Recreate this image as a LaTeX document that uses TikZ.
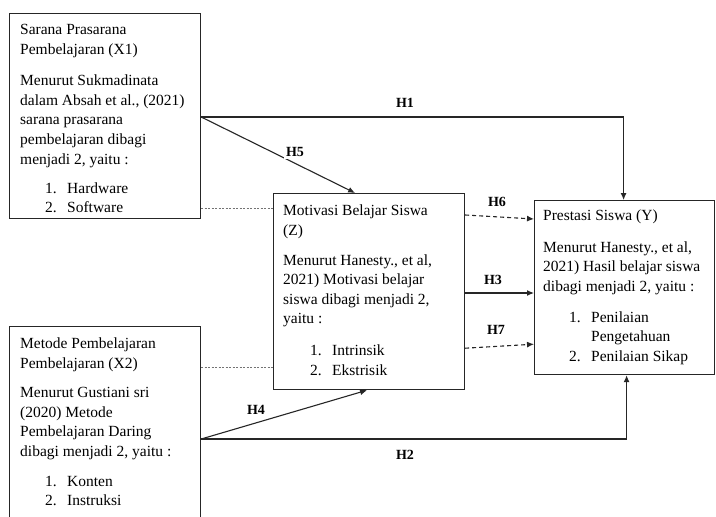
\documentclass[tikz,border=0pt]{standalone}
\usepackage{fontspec}
\setmainfont{Liberation Serif}
\usetikzlibrary{calc,arrows.meta}
\tikzset{
  box/.style={draw=black!85,line width=1.2pt,inner sep=0pt,anchor=north west},
  txt/.style={anchor=north west,align=left,inner sep=0pt,font=\fontsize{15.5}{19.6}\selectfont},
  conn/.style={draw=black!85,line width=1.1pt},
  arr/.style={conn,-{Latex[length=7pt,width=6pt]}},
  darr/.style={arr,dashed,dash pattern=on 4pt off 3pt},
  dotline/.style={draw=black!55,line width=0.7pt,dash pattern=on 2pt off 1.5pt},
  hlab/.style={font=\bfseries\fontsize{14}{16}\selectfont,fill=white,inner sep=2pt}
}
\newcommand{\itmb}[3]{\hspace*{#1}\makebox[22pt][l]{#2}#3}
\begin{document}
\begin{tikzpicture}[x=1pt,y=-1pt]
\clip (0,0) rectangle (716,517);
\fill[white] (0,0) rectangle (716,517);
% boxes
\node[box,minimum width=191pt,minimum height=205pt] (X1) at (9,13) {};
\node[box,minimum width=191pt,minimum height=226pt] (X2) at (9,326) {};
\node[box,minimum width=191pt,minimum height=196pt] (Z) at (273,193) {};
\node[box,minimum width=180pt,minimum height=174pt] (Y) at (534,200) {};
% texts
\node[txt] (tX1) at (20,24) {Sarana Prasarana\\Pembelajaran (X1)\\[12pt]
Menurut Sukmadinata\\dalam Absah et al., (2021)\\sarana prasarana\\pembelajaran dibagi\\menjadi 2, yaitu :\\[10pt]
\itmb{25pt}{1.}{Hardware}\\[-1pt]\itmb{25pt}{2.}{Software}};
\node[txt] (tX2) at (20,337.5) {Metode Pembelajaran\\Pembelajaran (X2)\\[10pt]
Menurut Gustiani sri\\(2020) Metode\\Pembelajaran Daring\\dibagi menjadi 2, yaitu :\\[10pt]
\itmb{25pt}{1.}{Konten}\\\itmb{25pt}{2.}{Instruksi}};
\node[txt] (tZ) at (283,205) {Motivasi Belajar Siswa\\(Z)\\[10pt]
Menurut Hanesty., et al,\\2021) Motivasi belajar\\siswa dibagi menjadi 2,\\yaitu :\\[12pt]
\itmb{27pt}{1.}{Intrinsik}\\\itmb{27pt}{2.}{Ekstrisik}};
\node[txt] (tY) at (543,209.5) {Prestasi Siswa (Y)\\[12pt]
Menurut Hanesty., et al,\\2021) Hasil belajar siswa\\dibagi menjadi 2, yaitu :\\[12pt]
\itmb{26pt}{1.}{Penilaian}\\[-1pt]\hspace*{48pt}Pengetahuan\\\itmb{26pt}{2.}{Penilaian Sikap}};
% coordinates
\coordinate (x1o) at ($(X1.north east)+(0,104)$);
\coordinate (x2o) at ($(X2.north east)+(0,113)$);
\coordinate (z5) at ($(Z.north)+(-14,0)$);
\coordinate (z4) at ($(Z.south)+(-2,0)$);
\coordinate (y1) at ($(Y.north)+(-1,0)$);
\coordinate (y2) at ($(Y.south)+(2,0)$);
\coordinate (z6) at ($(Z.north east)+(0,22)$);
\coordinate (y6) at ($(Y.north west)+(0,19)$);
\coordinate (z3) at ($(Z.north east)+(0,100)$);
\coordinate (z7) at ($(Z.south east)+(0,-42)$);
\coordinate (y7) at ($(Y.south west)+(0,-31)$);
\coordinate (d1) at ($(X1.south east)+(0,-11)$);
\coordinate (d2) at ($(X2.north east)+(0,41)$);
% connectors
\draw[arr] (x1o) -| (y1);
\draw[arr] (x1o) -- (z5);
\draw[arr] (x2o) -| (y2);
\draw[arr] (x2o) -- (z4);
\draw[darr] (z6) -- (y6);
\draw[arr] (z3) -- (z3 -| Y.west);
\draw[darr] (z7) -- (y7);
\draw[dotline] (d1) -- (d1 -| Z.west);
\draw[dotline] (d2) -- (d2 -| Z.west);
% labels
\node[hlab] (h1) at (405,103) {H1};
\node[hlab] (h5) at (295,152) {H5};
\node[hlab] (h4) at (256,410) {H4};
\node[hlab] (h2) at (405,455) {H2};
\node[hlab] (h6) at (497,202) {H6};
\node[hlab] (h3) at (493,280) {H3};
\node[hlab] (h7) at (496,330) {H7};
\end{tikzpicture}
\end{document}
